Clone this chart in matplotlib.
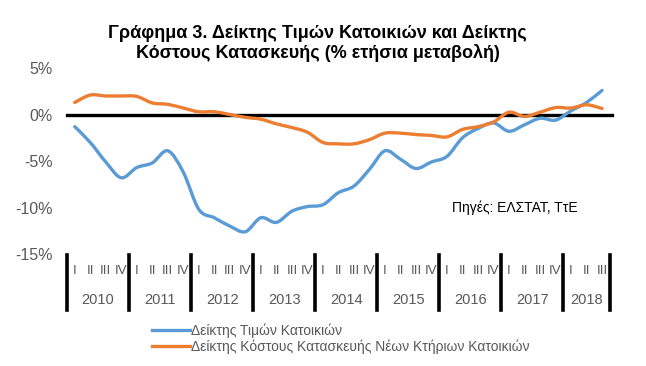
import matplotlib
matplotlib.use("Agg")
import matplotlib.pyplot as plt
import matplotlib.transforms as mtransforms
from matplotlib.path import Path
from matplotlib.patches import PathPatch
from matplotlib.lines import Line2D

plt.rcParams['font.family'] = ['Liberation Sans', 'DejaVu Sans']

years = ["2010", "2011", "2012", "2013", "2014", "2015", "2016", "2017", "2018"]
quarters_per_year = [4, 4, 4, 4, 4, 4, 4, 4, 3]
quarter_names = ["I", "II", "III", "IV"]

house_prices = [-1.3, -3.0, -5.1, -6.8, -5.7, -5.2, -3.9, -6.2, -10.2, -11.1, -12.0, -12.6,
                -11.1, -11.6, -10.4, -9.9, -9.7, -8.4, -7.7, -5.9, -3.9, -4.8, -5.8, -5.1,
                -4.5, -2.5, -1.5, -0.9, -1.8, -1.1, -0.4, -0.6, 0.4, 1.3, 2.6]
construction_cost = [1.3, 2.1, 2.0, 2.0, 1.95, 1.25, 1.1, 0.7, 0.3, 0.3, 0.0, -0.3,
                     -0.5, -1.0, -1.4, -1.9, -3.0, -3.15, -3.15, -2.7, -2.0, -2.0, -2.15, -2.25,
                     -2.4, -1.6, -1.3, -0.8, 0.25, -0.2, 0.25, 0.75, 0.7, 1.05, 0.65]

series_names = ["Δείκτης Τιμών Κατοικιών", "Δείκτης Κόστους Κατασκευής Νέων Κτήριων Κατοικιών"]
y_ticks = [5, 0, -5, -10, -15]
title = "Γράφημα 3. Δείκτης Τιμών Κατοικιών και Δείκτης\nΚόστους Κατασκευής (% ετήσια μεταβολή)"
source = "Πηγές: ΕΛΣΤΑΤ, ΤτΕ"


def smooth_path(xs, ys):
    # Bezier path through the data points (Excel-style smoothed line)
    pts = list(zip(xs, ys))
    n = len(pts)
    verts = [pts[0]]
    codes = [Path.MOVETO]
    for i in range(n - 1):
        p0 = pts[i - 1] if i > 0 else pts[i]
        p1 = pts[i]
        p2 = pts[i + 1]
        p3 = pts[i + 2] if i + 2 < n else pts[i + 1]
        c1 = (p1[0] + (p2[0] - p0[0]) / 6, p1[1] + (p2[1] - p0[1]) / 6)
        c2 = (p2[0] - (p3[0] - p1[0]) / 6, p2[1] - (p3[1] - p1[1]) / 6)
        verts += [c1, c2, p2]
        codes += [Path.CURVE4, Path.CURVE4, Path.CURVE4]
    return Path(verts, codes)


fig = plt.figure(figsize=(6.46, 3.66), dpi=100)
ax = fig.add_axes([0.1037, 0.306, 0.8403, 0.508])

x = list(range(len(house_prices)))
blue = "#5B9BD5"
orange = "#ED7D31"
lw = 2.4
for vals, col in [(house_prices, blue), (construction_cost, orange)]:
    patch = PathPatch(smooth_path(x, vals), facecolor='none', edgecolor=col, lw=lw,
                      capstyle='round', joinstyle='round', zorder=3)
    ax.add_patch(patch)
l1 = Line2D([], [], color=blue, lw=lw)
l2 = Line2D([], [], color=orange, lw=lw)

ax.axhline(0, color="black", lw=2.4, zorder=2, xmin=0, xmax=1.004, clip_on=False)

ax.set_xlim(-0.5, len(house_prices) - 0.5)
ax.set_ylim(-15, 5)
ax.set_yticks(y_ticks)
ax.set_yticklabels([f"{t}%" for t in y_ticks], color="#595959", fontsize=11.5)
ax.tick_params(axis='y', length=0, pad=10)
ax.set_xticks([])
for s in ax.spines.values():
    s.set_visible(False)

trans = mtransforms.blended_transform_factory(ax.transData, ax.transAxes)
pos = 0
bounds = [-0.5]
for yr, nq in zip(years, quarters_per_year):
    for q in range(nq):
        ax.text(pos + q, -0.09, quarter_names[q], transform=trans, ha='center', va='center',
                fontsize=9.5, color="#595959")
    ax.text(pos + nq / 2 - 0.5, -0.25, yr, transform=trans, ha='center', va='center',
            fontsize=10.5, color="#595959")
    pos += nq
    bounds.append(pos - 0.5)
for b in bounds:
    ax.plot([b, b], [-0.005, -0.30], transform=trans, color="black", lw=2.6, clip_on=False)

fig.text(0.492, 0.931, title, ha='center', va='top', fontsize=13, fontweight='bold',
         linespacing=1.15)
fig.text(0.70, 0.42, source, fontsize=10, color="black")

fig.legend([l1, l2], series_names, loc='upper left', bbox_to_anchor=(0.225, 0.135),
           frameon=False, fontsize=10, handlelength=2.7, handletextpad=0.1,
           labelspacing=0.1, borderpad=0, labelcolor="#595959")

fig.savefig("out.png", dpi=100)
